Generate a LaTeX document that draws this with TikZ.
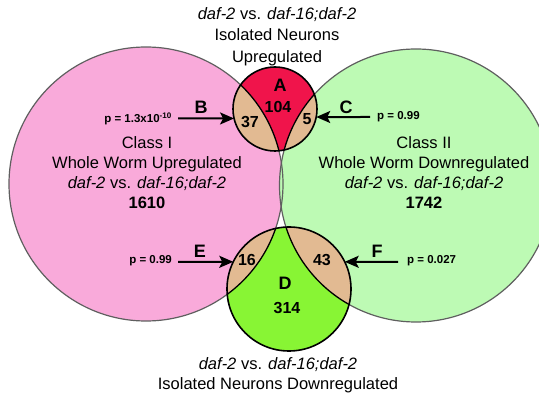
\documentclass[tikz,border=0pt]{standalone}
\usepackage{fontspec}
\setmainfont{Liberation Sans}
\usetikzlibrary{arrows.meta}
\definecolor{pinkfill}{RGB}{249,170,218}
\definecolor{greenfill}{RGB}{189,250,180}
\definecolor{redfill}{RGB}{240,20,75}
\definecolor{tanfill}{RGB}{226,186,146}
\definecolor{limefill}{RGB}{136,245,52}
\definecolor{rim}{RGB}{95,95,95}
\begin{document}
\begin{tikzpicture}[x=1pt, y=-1pt,
    txt/.style={align=center, inner sep=0pt, font=\fontsize{16.5}{20}\selectfont},
    num/.style={inner sep=0pt, font=\fontsize{16}{18}\selectfont\bfseries},
    lab/.style={inner sep=0pt, font=\fontsize{18}{20}\selectfont\bfseries},
    pval/.style={inner sep=0pt, font=\fontsize{11.5}{13}\selectfont\bfseries},
    big/.style={draw=rim, line width=1.2pt},
    cut/.style={draw=black, line width=1.3pt},
    small/.style={circle, draw=black, line width=1.6pt, inner sep=0pt, outer sep=0pt},
    arr/.style={line width=2pt, -{Stealth[length=14pt, width=12pt, inset=3pt]}}]
    \useasboundingbox (0,0) rectangle (539,398);
    \clip (0,0) rectangle (539,398);
    % whole worm classes
    \fill[pinkfill] (146,184) circle (137pt);
    \fill[greenfill] (416,185.5) circle (136.5pt);
    \draw[big] (146,184) circle (137pt);
    \draw[big] (416,185.5) circle (136.5pt);
    % isolated neurons up
    \fill[redfill] (275,109) circle (42pt);
    \begin{scope}
        \clip (275,109) circle (42pt);
        \fill[tanfill] (146,184) circle (137pt);
        \fill[tanfill] (416,185.5) circle (136.5pt);
        \draw[cut] (146,184) circle (137pt);
        \draw[cut] (416,185.5) circle (136.5pt);
    \end{scope}
    \node[small, minimum size=84pt] (upc) at (275,109) {};
    % isolated neurons down
    \fill[limefill] (289,289) circle (62pt);
    \begin{scope}
        \clip (289,289) circle (62pt);
        \fill[tanfill] (146,184) circle (137pt);
        \fill[tanfill] (416,185.5) circle (136.5pt);
        \draw[cut] (146,184) circle (137pt);
        \draw[cut] (416,185.5) circle (136.5pt);
    \end{scope}
    \node[small, minimum size=124pt] (downc) at (289,289) {};

    \node[txt, font=\fontsize{16.5}{21.5}\selectfont] (uptitle) at (277,36.5) {\textit{daf-2} vs. \textit{daf-16;daf-2}\\Isolated Neurons\\Upregulated};
    \node[txt] (downtitle) at (278,375) {\textit{daf-2} vs. \textit{daf-16;daf-2}\\Isolated Neurons Downregulated};
    \node[txt] (class1) at (147,173) {Class I\\Whole Worm Upregulated\\\textit{daf-2} vs. \textit{daf-16;daf-2}\\\textbf{1610}};
    \node[txt] (class2) at (424,173) {Class II\\Whole Worm Downregulated\\\textit{daf-2} vs. \textit{daf-16;daf-2}\\\textbf{1742}};

    \node[lab] (labA) at (280,85) {A};
    \node[num] (nA) at (278,107) {104};
    \node[num] (nB) at (250,122) {37};
    \node[num] (nC) at (307,119) {5};
    \node[lab] (labD) at (285,283) {D};
    \node[num] (nD) at (287,308) {314};
    \node[num] (nE) at (247,260) {16};
    \node[num] (nF) at (322,260) {43};

    \node[lab] (labB) at (201,107) {B};
    \node[lab] (labC) at (346,107) {C};
    \node[lab] (labE) at (200,251) {E};
    \node[lab] (labF) at (377,251) {F};

    \node[pval, anchor=east] (pB) at (172,119) {p = 1.3x10\textsuperscript{-10}};
    \node[pval, anchor=west] (pC) at (377,117) {p = 0.99};
    \node[pval, anchor=east] (pE) at (172,261) {p = 0.99};
    \node[pval, anchor=west] (pF) at (407,261) {p = 0.027};

    \coordinate (tB) at (178,118.5);
    \coordinate (tC) at (370,117);
    \coordinate (tE) at (178,261.8);
    \coordinate (tF) at (398,261.8);
    \draw[arr] (tB) -- (upc.193);
    \draw[arr] (tC) -- (upc.-11);
    \draw[arr] (tE) -- (downc.154);
    \draw[arr] (tF) -- (downc.26);
\end{tikzpicture}
\end{document}
